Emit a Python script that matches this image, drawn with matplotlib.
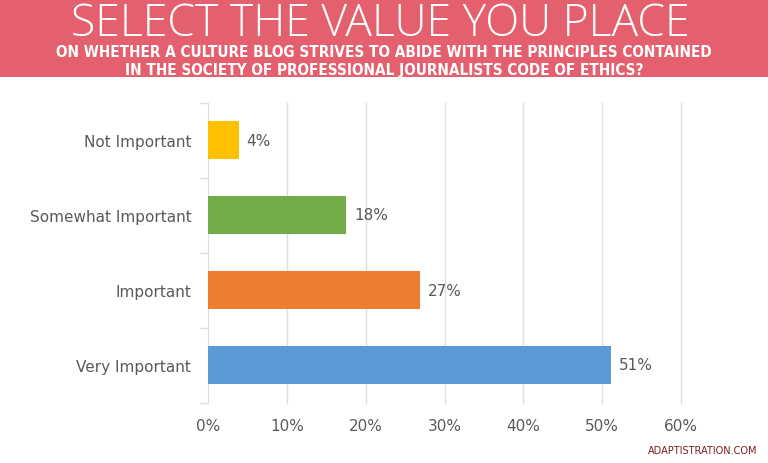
import matplotlib.pyplot as plt
from matplotlib import font_manager
from matplotlib.patches import Rectangle

categories = ["Very Important", "Important", "Somewhat Important", "Not Important"]
values = [51.1, 26.9, 17.5, 3.9]
colors = ["#5B9BD5", "#ED7D31", "#70AD47", "#FFC000"]
xticks = [0, 10, 20, 30, 40, 50, 60]

title = "SELECT THE VALUE YOU PLACE"
subtitle = ("ON WHETHER A CULTURE BLOG STRIVES TO ABIDE WITH THE PRINCIPLES CONTAINED\n"
            "IN THE SOCIETY OF PROFESSIONAL JOURNALISTS CODE OF ETHICS?")

text_gray = "#595959"
grid_gray = "#DDDDDD"

# pick a narrow font for the subtitle if one is installed
names = {f.name for f in font_manager.fontManager.ttflist}
narrow = "DejaVu Sans"
for cand in ["Liberation Sans Narrow", "DejaVu Sans Condensed"]:
    if cand in names:
        narrow = cand
        break

fig = plt.figure(figsize=(7.68, 4.64), dpi=100)
fig.patch.set_facecolor("white")

# pink header band
fig.patches.append(Rectangle((0, 1 - 78 / 464), 1, 78 / 464, transform=fig.transFigure,
                             facecolor="#E5606F", edgecolor="none", zorder=0))
fig.text(0.495, 1 - 36 / 464, title, ha="center", va="baseline", color="white",
         fontsize=32, family="Open Sans", fontweight="light")
sub = fig.text(0.5, 1 - 61.5 / 464, subtitle, ha="center", va="center", color="white",
               fontsize=12.5, family=narrow, fontweight="bold", linespacing=1.2)
if narrow == "DejaVu Sans":
    sub.set_fontstretch("condensed")
    sub.set_fontsize(11)

ax = fig.add_axes([208 / 768, 1 - 403.5 / 464, 473 / 768, 300 / 464])
ypos = range(len(categories))
ax.barh(ypos, values, height=0.5, color=colors, zorder=3)
for y, v in zip(ypos, values):
    ax.text(v + 1.0, y, f"{v:.0f}%", va="center", ha="left", fontsize=11, color=text_gray)

ax.set_xlim(0, 60)
ax.set_ylim(-0.5, 3.5)
ax.set_xticks(xticks)
ax.set_xticklabels([f"{t}%" for t in xticks], fontsize=11, color=text_gray)
ax.set_yticks(list(ypos))
ax.set_yticklabels(categories, fontsize=11, color=text_gray)
ax.set_yticks([-0.5, 0.5, 1.5, 2.5, 3.5], minor=True)
ax.tick_params(axis="y", which="major", length=0, pad=12)
ax.tick_params(axis="y", which="minor", length=6, color=grid_gray, width=1)
ax.tick_params(axis="x", length=0, pad=11)
for t in xticks[1:]:
    ax.axvline(t, color=grid_gray, linewidth=1, zorder=0, clip_on=False)
for s in ["top", "right", "bottom"]:
    ax.spines[s].set_visible(False)
ax.spines["left"].set_color(grid_gray)

fig.text(757 / 768, 1 - 451 / 464, "ADAPTISTRATION.COM", ha="right", va="center",
         fontsize=7, color="#7A1E1E")

fig.savefig("out.png", dpi=100)
